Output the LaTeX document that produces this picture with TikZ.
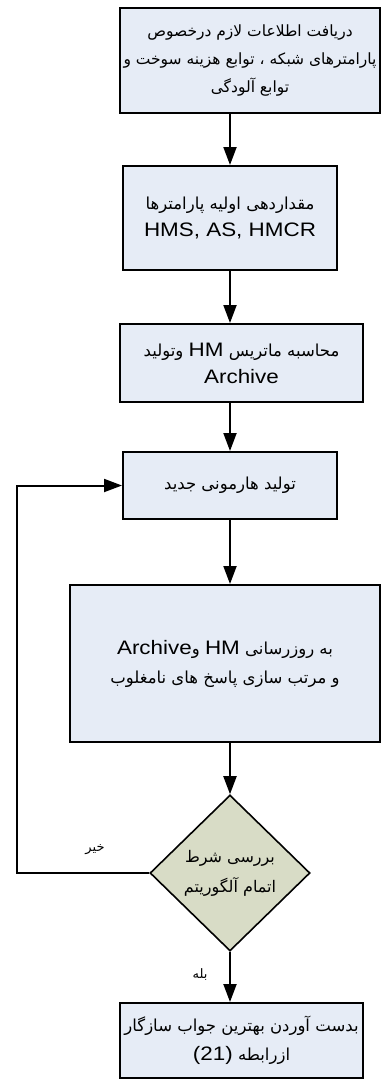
\documentclass[tikz,border=0pt]{standalone}
\usepackage{fontspec}
\usetikzlibrary{shapes.geometric,arrows.meta}
\TeXXeTstate=1
\newfontfamily\fa[Script=Arabic]{DejaVu Sans}
\newfontfamily\lat[FakeStretch=1.15]{Liberation Sans}
\definecolor{boxfill}{RGB}{230,236,246}
\definecolor{diafill}{RGB}{216,220,198}
\newcommand{\lt}[1]{\beginL{\lat\fontsize{19.5}{20}\selectfont #1}\endL{}}
\begin{document}
\begin{tikzpicture}[x=1pt,y=-1pt,
  stepbox/.style={draw=black, line width=2pt, fill=boxfill, inner sep=0pt, align=center, font=\fa\fontsize{16.5}{29}\selectfont},
  decbox/.style={draw=black, line width=1.6pt, fill=diafill, shape=diamond, inner sep=0pt},
  flow/.style={line width=2pt, -{Triangle[length=18pt,width=13pt]}},
  lbl/.style={font=\fa\fontsize{13}{15}\selectfont, inner sep=0pt}]
\useasboundingbox (0,0) rectangle (382,1082);
\fill[white] (0,0) rectangle (382,1082);
\node[stepbox, minimum width=260pt, minimum height=105pt, font=\fa\fontsize{15.5}{28}\selectfont] (b1) at (250,60.5)
  {\beginR دریافت اطلاعات لازم درخصوص\endR\\\beginR پارامترهای شبکه ، توابع هزینه سوخت و\endR\\\beginR توابع آلودگی\endR};
\node[stepbox, minimum width=214pt, minimum height=104pt] (b2) at (230,218)
  {\beginR مقداردهی اولیه پارامترها\endR\\[-2pt]\lt{HMS, AS, HMCR}};
\node[stepbox, minimum width=243pt, minimum height=78pt] (b3) at (241.5,363)
  {\beginR محاسبه ماتریس \lt{HM} وتولید\endR\\[-2pt]\lt{Archive}};
\node[stepbox, minimum width=214pt, minimum height=67pt] (b4) at (230,485.5)
  {\beginR تولید هارمونی جدید\endR};
\node[stepbox, minimum width=310pt, minimum height=157pt] (b5) at (225,663.5)
  {\beginR به روزرسانی \lt{HM} و\lt{Archive}\endR\\\beginR و مرتب سازی پاسخ های نامغلوب\endR};
\node[decbox, minimum width=160pt, minimum height=156pt] (d) at (230,873) {};
\node[align=center, inner sep=0pt, font=\fa\fontsize{16}{30}\selectfont] (dt) at (230,873)
  {\beginR بررسی شرط\endR\\\beginR اتمام آلگوریتم\endR};
\node[stepbox, minimum width=243pt, minimum height=75pt] (b6) at (241.5,1040.5)
  {\beginR بدست آوردن بهترین جواب سازگار\endR\\\beginR ازرابطه \lt{(21)}\endR};
\coordinate (lc) at (17,873);
\node[lbl] (no) at (95,850) {\beginR خیر\endR};
\node[lbl] (yes) at (200,975) {\beginR بله\endR};
\draw[flow] (b2.north |- b1.south) -- (b2.north);
\draw[flow] (b2.south) -- (b2.south |- b3.north);
\draw[flow] (b4.north |- b3.south) -- (b4.north);
\draw[flow] (b4.south) -- (b4.south |- b5.north);
\draw[flow] (d.north |- b5.south) -- (d.north);
\draw[flow] (d.south) -- (d.south |- b6.north);
\draw[flow] (d.west) -- (lc) -- (lc |- b4.west) -- (b4.west);
\end{tikzpicture}
\end{document}
